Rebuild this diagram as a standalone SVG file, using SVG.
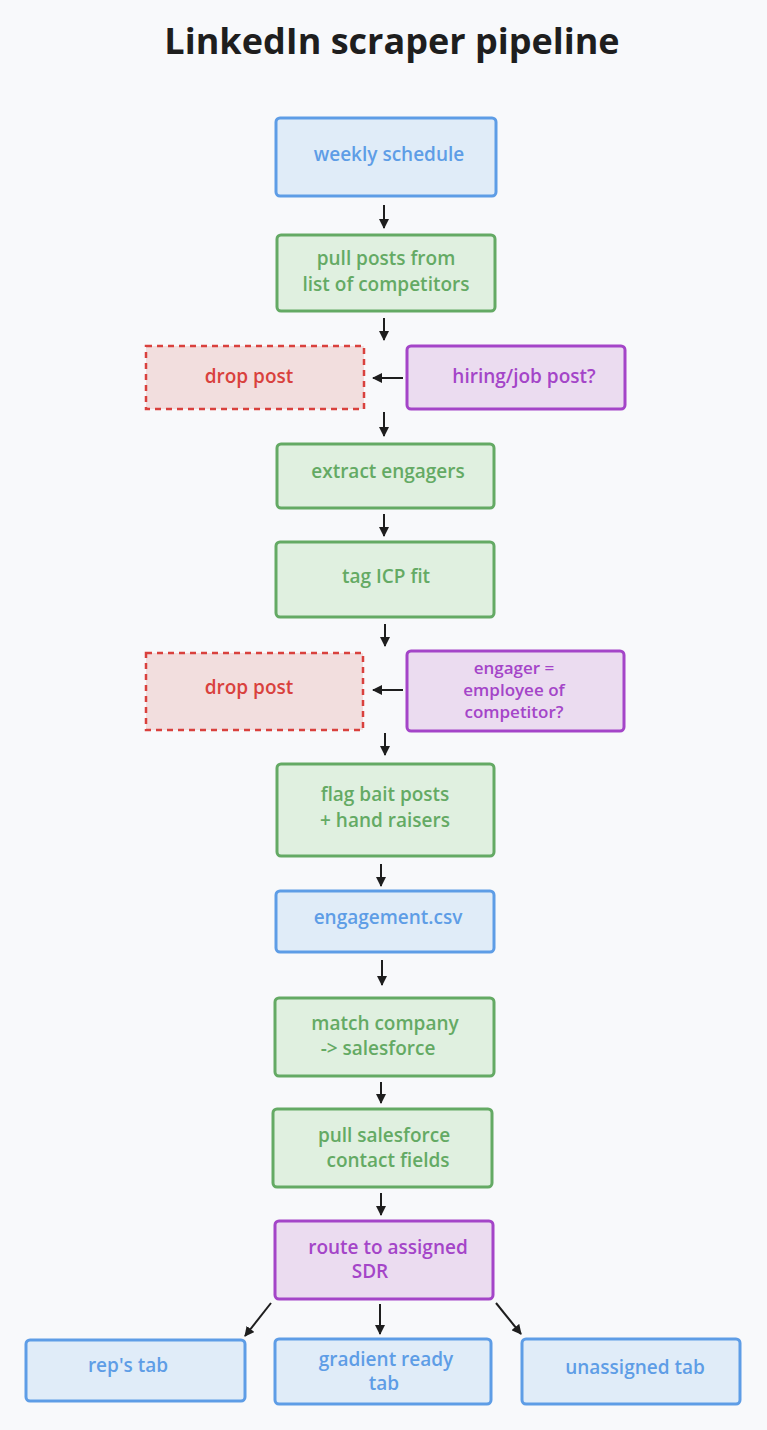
<svg xmlns="http://www.w3.org/2000/svg" width="767" height="1430" viewBox="0 0 767 1430">
<style>
text{font-family:"Open Sans","Liberation Sans",sans-serif;font-size:19px;font-weight:600;text-anchor:middle;dominant-baseline:middle}
.b rect{fill:#e0ecf8;stroke:#5e9de6;stroke-width:3}.b text{fill:#5e9de6}
.g rect{fill:#e0f0e0;stroke:#64aa64;stroke-width:3}.g text{fill:#64aa64}
.r rect{fill:#f2dede;stroke:#d9413d;stroke-width:2.5;stroke-dasharray:6 5}.r text{fill:#d9413d}
.p rect{fill:#ebdcf0;stroke:#a445c8;stroke-width:3}.p text{fill:#a445c8}
#n8 text{font-size:17px}
#connectors line{stroke:#1e1e1e;stroke-width:2;marker-end:url(#ah)}
</style>
<defs><marker id="ah" viewBox="0 0 10 10" refX="9" refY="5" markerWidth="5" markerHeight="5" orient="auto"><path d="M0,0L10,5L0,10z" fill="#1e1e1e"/></marker></defs>
<rect width="767" height="1430" fill="#f8f9fb"/>
<text x="392" y="44" style="font-size:36px;font-weight:700;fill:#1e1e1e">LinkedIn scraper pipeline</text>
<g id="n1" class="b"><rect x="276" y="118" width="220" height="78" rx="4"/><text x="389" y="156">weekly schedule</text></g>
<g id="n2" class="g"><rect x="277" y="235" width="218" height="76" rx="4"/><text x="386" y="260">pull posts from</text><text x="386" y="286">list of competitors</text></g>
<g id="n3" class="r"><rect x="146" y="346" width="218" height="63"/><text x="249" y="378">drop post</text></g>
<g id="n4" class="p"><rect x="407" y="346" width="218" height="63" rx="4"/><text x="524" y="378">hiring/job post?</text></g>
<g id="n5" class="g"><rect x="277" y="444" width="217" height="64" rx="4"/><text x="388" y="473">extract engagers</text></g>
<g id="n6" class="g"><rect x="276" y="542" width="218" height="75" rx="4"/><text x="386" y="578">tag ICP fit</text></g>
<g id="n7" class="r"><rect x="146" y="653" width="217" height="77"/><text x="249" y="689">drop post</text></g>
<g id="n8" class="p"><rect x="407" y="651" width="217" height="80" rx="4"/><text x="514" y="669">engager =</text><text x="514" y="691">employee of</text><text x="514" y="713">competitor?</text></g>
<g id="n9" class="g"><rect x="277" y="764" width="217" height="92" rx="4"/><text x="385" y="796">flag bait posts</text><text x="385" y="822">+ hand raisers</text></g>
<g id="n10" class="b"><rect x="276" y="891" width="218" height="61" rx="4"/><text x="388" y="919">engagement.csv</text></g>
<g id="n11" class="g"><rect x="275" y="998" width="219" height="78" rx="4"/><text x="385" y="1025">match company</text><text x="378" y="1050">-&gt; salesforce</text></g>
<g id="n12" class="g"><rect x="273" y="1109" width="219" height="78" rx="4"/><text x="384" y="1137">pull salesforce</text><text x="388" y="1162">contact fields</text></g>
<g id="n13" class="p"><rect x="275" y="1221" width="218" height="78" rx="4"/><text x="388" y="1249">route to assigned</text><text x="370" y="1273">SDR</text></g>
<g id="n14" class="b"><rect x="26" y="1340" width="219" height="61" rx="4"/><text x="128" y="1367">rep's tab</text></g>
<g id="n15" class="b"><rect x="275" y="1339" width="216" height="65" rx="4"/><text x="386" y="1361">gradient ready</text><text x="384" y="1385">tab</text></g>
<g id="n16" class="b"><rect x="522" y="1339" width="218" height="65" rx="4"/><text x="635" y="1369">unassigned tab</text></g>
<g id="connectors">
<line x1="384" y1="205" x2="384" y2="228"/>
<line x1="384" y1="318" x2="384" y2="340"/>
<line x1="403" y1="378" x2="373" y2="378"/>
<line x1="384" y1="412" x2="384" y2="436"/>
<line x1="384" y1="514" x2="384" y2="536"/>
<line x1="385" y1="624" x2="385" y2="646"/>
<line x1="403" y1="690" x2="373" y2="690"/>
<line x1="385" y1="733" x2="385" y2="755"/>
<line x1="381" y1="864" x2="381" y2="886"/>
<line x1="382" y1="960" x2="382" y2="985"/>
<line x1="381" y1="1082" x2="381" y2="1103"/>
<line x1="381" y1="1193" x2="381" y2="1215"/>
<line x1="271" y1="1303" x2="245" y2="1336"/>
<line x1="380" y1="1304" x2="380" y2="1334"/>
<line x1="496" y1="1303" x2="521" y2="1334"/>
</g>
</svg>
